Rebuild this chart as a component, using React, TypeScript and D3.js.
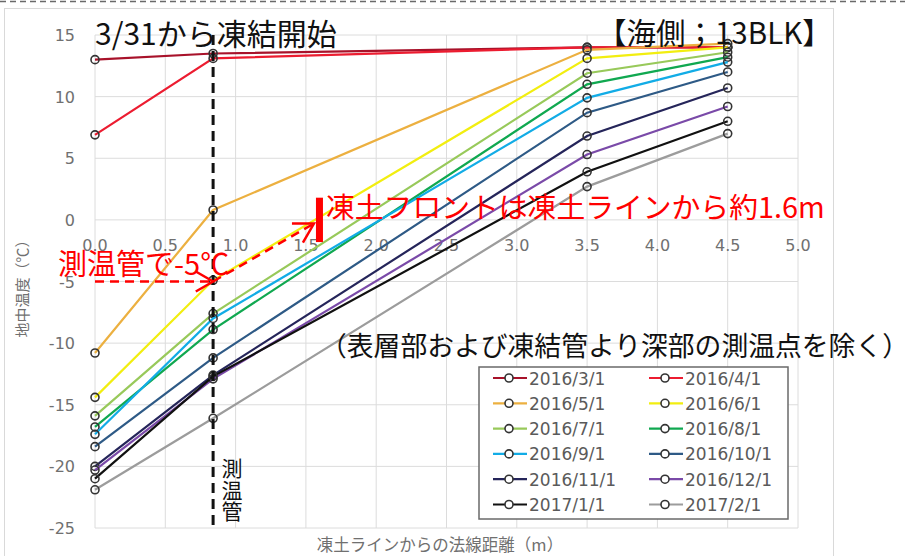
import React from "react";
import * as d3 from "d3";

// Distance from the frozen-soil line (m) at each measuring point
const distances = [0, 0.84, 3.5, 4.5];

// Survey dates (one series each)
const dates = [
  "2016/3/1", "2016/4/1", "2016/5/1", "2016/6/1",
  "2016/7/1", "2016/8/1", "2016/9/1", "2016/10/1",
  "2016/11/1", "2016/12/1", "2017/1/1", "2017/2/1",
];

// Ground temperature (℃) per date, one value per distance
const t20160301 = [13.0, 13.5, 14.0, 14.0];
const t20160401 = [6.9, 13.1, 14.0, 14.0];
const t20160501 = [-10.8, 0.8, 13.8, 14.3];
const t20160601 = [-14.4, -4.9, 13.1, 14.0];
const t20160701 = [-15.9, -7.6, 11.9, 13.6];
const t20160801 = [-16.8, -8.9, 11.0, 13.2];
const t20160901 = [-17.4, -8.0, 9.9, 12.8];
const t20161001 = [-18.4, -11.2, 8.7, 12.0];
const t20161101 = [-20.0, -12.6, 6.8, 10.7];
const t20161201 = [-20.3, -12.9, 5.3, 9.2];
const t20170101 = [-21.0, -12.7, 3.9, 8.0];
const t20170201 = [-21.9, -16.1, 2.7, 7.0];

const seriesValues = [
  t20160301, t20160401, t20160501, t20160601,
  t20160701, t20160801, t20160901, t20161001,
  t20161101, t20161201, t20170101, t20170201,
];

const seriesColors = [
  "#A8122A", "#EC1C30", "#ECB040", "#F2EE10",
  "#98C95A", "#10A850", "#12ACE6", "#2E5A86",
  "#25255A", "#7A4AA8", "#111111", "#9C9C9C",
];

// Axis ticks
const yTicks = [15, 10, 5, 0, -5, -10, -15, -20, -25];
const xTicks = [0, 0.5, 1, 1.5, 2, 2.5, 3, 3.5, 4, 4.5, 5];

// Annotation values
const probeDistance = 0.84;
const probeTemp = -5;
const frontDistance = 1.6;
const frontTemp = -0.3;

const W = 905;
const H = 556;

const x = d3.scaleLinear().domain([0, 5]).range([95, 798]);
const y = d3.scaleLinear().domain([-25, 15]).range([528, 35]);

const jp = "'Noto Sans CJK JP', 'Noto Sans CJK SC', sans-serif";
const num = "'DejaVu Sans', Verdana, sans-serif";

function arrowHead(x1: number, y1: number, x2: number, y2: number, len: number) {
  const a = Math.atan2(y2 - y1, x2 - x1);
  const back = a + Math.PI;
  const s = Math.PI / 6;
  const p1 = [x2 + len * Math.cos(back - s), y2 + len * Math.sin(back - s)];
  const p2 = [x2 + len * Math.cos(back + s), y2 + len * Math.sin(back + s)];
  return `M${p1[0]},${p1[1]}L${x2},${y2}L${p2[0]},${p2[1]}`;
}

export default function App() {
  const line = d3
    .line<number>()
    .x((_, i) => x(distances[i]))
    .y((d) => y(d));

  const legendX = 479;
  const legendY = 367;
  const rowH = 25.3;

  // red arrows
  const hx1 = x(0), hy = y(probeTemp), hx2 = x(probeDistance);
  const dx1 = x(probeDistance), dy1 = y(probeTemp);
  const dx2 = x(frontDistance) - 6, dy2 = y(frontTemp);

  return (
    <svg
      width={W}
      height={H}
      style={{ position: "absolute", left: 0, top: 0, background: "#fff" }}
    >
      <rect x={0} y={0} width={W} height={H} fill="#fff" />
      <line x1={0} x2={W} y1={1.5} y2={1.5} stroke="#6a6a6a" strokeWidth={1.5} strokeDasharray="6 4" />
      <rect x={4.5} y={8.5} width={829} height={560} fill="#fff" stroke="#D9D9D9" strokeWidth={1} />

      {/* gridlines */}
      {yTicks.map((t) => (
        <line key={"gy" + t} x1={x(0)} x2={x(5)} y1={y(t)} y2={y(t)} stroke="#DCDCDC" strokeWidth={1} />
      ))}
      {xTicks.map((t) => (
        <line key={"gx" + t} x1={x(t)} x2={x(t)} y1={y(15)} y2={y(-25)} stroke="#DCDCDC" strokeWidth={1} />
      ))}

      {/* tick labels */}
      {yTicks.map((t) => (
        <text key={"ly" + t} x={75} y={y(t) + 6} textAnchor="end" fontFamily={num} fontSize={16} fill="#707070">
          {t}
        </text>
      ))}
      {xTicks.map((t) => (
        <text key={"lx" + t} x={x(t)} y={y(0) + 31} textAnchor="middle" fontFamily={num} fontSize={16} fill="#707070">
          {t.toFixed(1)}
        </text>
      ))}

      {/* axis titles */}
      <text
        transform={`translate(28,${285}) rotate(-90)`}
        textAnchor="middle"
        fontFamily={jp}
        fontSize={15}
        fill="#707070"
      >
        地中温度（℃）
      </text>
      <text x={440} y={551} textAnchor="middle" fontFamily={jp} fontSize={16.5} fill="#707070">
        凍土ラインからの法線距離（m）
      </text>

      {/* series */}
      {seriesValues.map((vals, si) => (
        <g key={"s" + si}>
          <path d={line(vals) || ""} fill="none" stroke={seriesColors[si]} strokeWidth={2.2} />
          {vals.map((v, i) => (
            <circle key={i} cx={x(distances[i])} cy={y(v)} r={4} fill="none" stroke="#333" strokeWidth={1.6} />
          ))}
        </g>
      ))}

      {/* probe position */}
      <line
        x1={x(probeDistance)}
        x2={x(probeDistance)}
        y1={y(15)}
        y2={y(-25) + 2}
        stroke="#111"
        strokeWidth={3}
        strokeDasharray="10 6"
      />

      {/* red arrows */}
      <line x1={hx1} x2={hx2} y1={hy} y2={hy} stroke="#FF0000" strokeWidth={2.5} strokeDasharray="9 6" />
      <path d={arrowHead(hx1, hy, hx2, hy, 20)} fill="none" stroke="#FF0000" strokeWidth={2.5} />
      <line x1={dx1} y1={dy1} x2={dx2} y2={dy2} stroke="#FF0000" strokeWidth={2.5} strokeDasharray="9 6" />
      <path d={arrowHead(dx1, dy1, dx2, dy2, 22)} fill="none" stroke="#FF0000" strokeWidth={2.5} />
      <rect
        x={x(frontDistance) - 4}
        y={y(1.8)}
        width={7}
        height={y(-1.8) - y(1.8)}
        fill="#FF0000"
      />

      {/* annotations */}
      <text x={95} y={45} fontFamily={jp} fontSize={30} fill="#111">
        3/31から凍結開始
      </text>
      <text x={597} y={44} fontFamily={jp} fontSize={29.5} fill="#111">
        【海側；13BLK】
      </text>
      <text x={326} y={218} fontFamily={jp} fontSize={28.8} fill="#FF0000">
        凍土フロントは凍土ラインから約1.6m
      </text>
      <text x={58} y={275} fontFamily={jp} fontSize={29} fill="#FF0000">
        測温管で-5℃
      </text>
      <text x={320} y={356} fontFamily={jp} fontSize={26.8} fill="#111">
        （表層部および凍結管より深部の測温点を除く）
      </text>
      {["測", "温", "管"].map((c, i) => (
        <text key={c} x={232} y={476 + i * 21.5} textAnchor="middle" fontFamily={jp} fontSize={21} fill="#111">
          {c}
        </text>
      ))}

      {/* legend */}
      <rect x={legendX} y={legendY} width={309} height={152} fill="#fff" stroke="#6a6a6a" strokeWidth={1.5} />
      {dates.map((d, i) => {
        const col = i % 2;
        const row = Math.floor(i / 2);
        const cy = legendY + 11 + row * rowH;
        const lx = col === 0 ? 493 : 649;
        return (
          <g key={d}>
            <line x1={lx} x2={lx + 34} y1={cy} y2={cy} stroke={seriesColors[i]} strokeWidth={2.2} />
            <circle cx={lx + 16} cy={cy} r={4} fill="#fff" stroke="#333" strokeWidth={1.6} />
            <text x={lx + 36} y={cy + 6.5} fontFamily={num} fontSize={17} fill="#5a5a5a">
              {d}
            </text>
          </g>
        );
      })}
    </svg>
  );
}
